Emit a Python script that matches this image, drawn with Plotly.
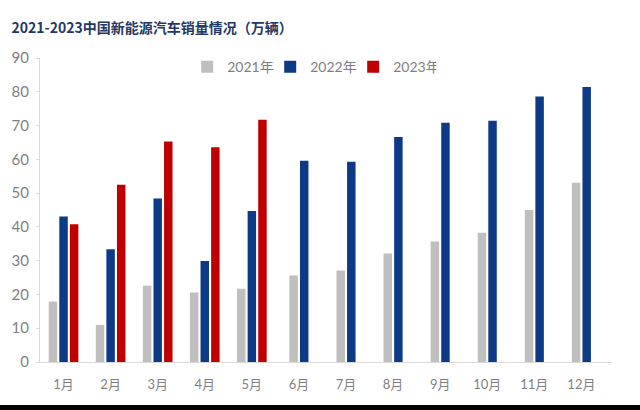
import plotly.graph_objects as go

months = ["1月", "2月", "3月", "4月", "5月", "6月", "7月", "8月", "9月", "10月", "11月", "12月"]
sales_2021 = [17.9, 11.0, 22.6, 20.6, 21.7, 25.6, 27.1, 32.1, 35.7, 38.3, 45.0, 53.1]
sales_2022 = [43.1, 33.4, 48.4, 29.9, 44.7, 59.6, 59.3, 66.6, 70.8, 71.4, 78.6, 81.4]
sales_2023 = [40.8, 52.5, 65.3, 63.6, 71.7, None, None, None, None, None, None, None]

series = [
    ("2021年", sales_2021, "#BFBFBF"),
    ("2022年", sales_2022, "#0C3A86"),
    ("2023年", sales_2023, "#C00000"),
]

bar_w = 0.18
slot = 0.225

# number of present series per month, so groups are centred on their label
counts = [sum(1 for _, vals, _ in series if vals[i] is not None) for i in range(len(months))]

fig = go.Figure()
for k, (name, vals, color) in enumerate(series):
    offsets = []
    for i in range(len(months)):
        n = counts[i]
        offsets.append((k - n / 2) * slot + (slot - bar_w) / 2)
    fig.add_trace(go.Bar(
        name=name, x=months, y=vals,
        marker=dict(color=color, line=dict(width=0)),
        width=bar_w, offset=offsets,
    ))

font_fam = "Lato, 'Noto Sans CJK SC', sans-serif"
fig.update_layout(
    width=640, height=410,
    margin=dict(l=40, r=28, t=58, b=48),
    paper_bgcolor="white", plot_bgcolor="white",
    barmode="group",
    showlegend=True,
    legend=dict(orientation="h", x=0.475, xanchor="center", y=0.97, yanchor="middle",
                font=dict(size=14, color="#7F7F7F", family=font_fam),
                entrywidth=38, entrywidthmode="pixels", tracegroupgap=0,
                bgcolor="rgba(0,0,0,0)"),
    title=dict(text="<b>2021-2023中国新能源汽车销量情况（万辆）</b>",
               x=0.018, xanchor="left", y=0.932, yanchor="middle",
               font=dict(size=14, color="#1F3864", family="'Noto Sans CJK SC', sans-serif")),
    xaxis=dict(type="category", showline=True, linecolor="#D9D9D9", linewidth=1,
               ticks="", showgrid=False, range=[-0.5, 11.65], ticklabelstandoff=10,
               tickfont=dict(size=13, color="#7F7F7F", family=font_fam)),
    yaxis=dict(range=[0, 90], dtick=10, showline=True, linecolor="#D9D9D9", linewidth=1,
               showgrid=False, zeroline=False, ticks="outside", ticklen=3, tickcolor="#D9D9D9",
               ticklabelstandoff=4,
               tickfont=dict(size=15, color="#7F7F7F", family=font_fam)),
    shapes=[dict(type="rect", xref="paper", yref="paper", x0=-0.1, x1=1.1,
                 y0=-0.2, y1=-43 / 304, fillcolor="black", line=dict(width=0), layer="above")],
)

fig.write_html("out.html")
